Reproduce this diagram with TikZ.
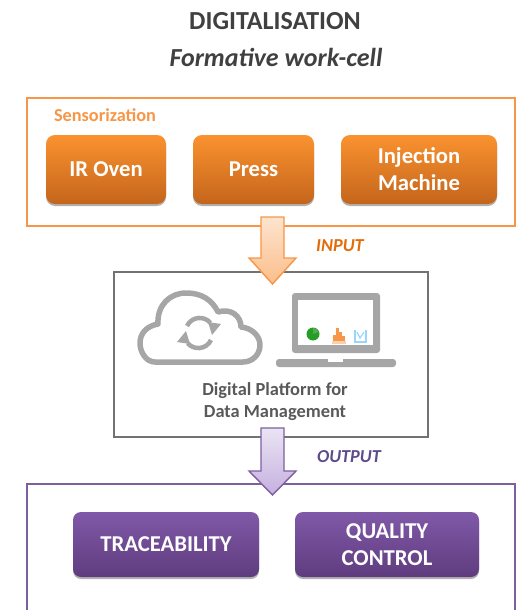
\documentclass[tikz,border=0pt]{standalone}
\usepackage{fontspec}
\setmainfont{Carlito}
\usetikzlibrary{shadows,arrows.meta}

\definecolor{orangeline}{HTML}{F79646}
\definecolor{orangedark}{HTML}{E36C0A}
\definecolor{orangetop}{HTML}{FA922F}
\definecolor{orangebot}{HTML}{C4651C}
\definecolor{orangepale}{HTML}{FDE4CF}
\definecolor{orangesoft}{HTML}{FBBE8A}
\definecolor{purpleline}{HTML}{7D5FA0}
\definecolor{purpledark}{HTML}{5F4B8B}
\definecolor{purpletop}{HTML}{8059A8}
\definecolor{purplebot}{HTML}{5F3C7E}
\definecolor{purplepale}{HTML}{EAE4F3}
\definecolor{purplesoft}{HTML}{C6B0E0}
\definecolor{iconmid}{HTML}{A6A6A6}
\definecolor{textdark}{HTML}{404040}
\definecolor{textmid}{HTML}{595959}

\def\px{0.75pt}

\tikzset{
  framebox/.style={line width=2.6*\px},
  softshadow/.style={drop shadow={shadow xshift=0pt, shadow yshift=-2*\px, opacity=0.3, fill=black}},
  stepbox/.style={rounded corners=9*\px, text=white, align=center, font=\fontsize{17}{20.25}\selectfont\bfseries,
    minimum height=69*\px, softshadow},
  orangebox/.style={stepbox, top color=orangetop, bottom color=orangebot},
  purplebox/.style={stepbox, top color=purpletop, bottom color=purplebot, minimum height=65*\px, rounded corners=8*\px},
  inputarrow/.style={line width=1.4*\px, draw=orangeline, top color=orangepale, bottom color=orangesoft},
  outputarrow/.style={line width=1.4*\px, draw=purpleline, top color=purplepale, bottom color=purplesoft},
  icon/.style={draw=iconmid, line width=5.5*\px, line join=round},
}

\begin{document}
\begin{tikzpicture}[x=0.75pt,y=-0.75pt]
  \useasboundingbox (0,0) rectangle (522,610);

  % Titles
  \node[text=textdark, font=\fontsize{19.5}{22}\selectfont\bfseries] (title) at (275,21) {DIGITALISATION};
  \node[text=textdark, font=\fontsize{19.5}{22}\selectfont\bfseries\itshape] (subtitle) at (276,57) {Formative work-cell};

  % Sensorization frame
  \draw[framebox, draw=orangeline] (27,98) rectangle (515,226);
  \node[text=orangeline, font=\fontsize{13.7}{16}\selectfont\bfseries] (sensor) at (105,115) {Sensorization};
  \node[orangebox, minimum width=120*\px] (oven) at (106,169.5) {IR Oven};
  \node[orangebox, minimum width=121*\px] (press) at (253.5,169.5) {Press};
  \node[orangebox, minimum width=156*\px] (injection) at (419,169.5) {Injection\\Machine};

  % Platform frame
  \draw[framebox, draw=textmid!85] (114,272) rectangle (428,437);

  % Cloud with sync arrows
  \draw[icon] (155,362) .. controls (146,362) and (140,352) .. (140,343)
    .. controls (140,333) and (147,326) .. (158,324)
    .. controls (157,305) and (170,293) .. (186,293)
    .. controls (202,293) and (212,300) .. (218,312)
    .. controls (231,308) and (241,316) .. (241,327)
    .. controls (252,328) and (260,336) .. (260,345)
    .. controls (260,355) and (252,362) .. (243,362) -- cycle;
  \draw[draw=iconmid, line width=4.5*\px] (187,326) arc[start angle=205, end angle=320, radius=14];
  \draw[draw=iconmid, line width=4.5*\px] (211,340) arc[start angle=25, end angle=140, radius=14];
  \fill[iconmid] (208,322) -- (221,324) -- (212,335) -- cycle;
  \fill[iconmid] (190,344) -- (177,342) -- (186,331) -- cycle;

  % Laptop
  \fill[iconmid, rounded corners=3*\px] (292,293) rectangle (380,353);
  \fill[white] (298,300) rectangle (373,345);
  \fill[iconmid, rounded corners=3*\px] (276,359) rectangle (396,367);
  \fill[white] (328,359) rectangle (343,362);

  % Small charts on the screen
  \fill[green!55!black!85] (313,334) circle (6.5);
  \fill[green!35!gray] (313,334) -- (313,328) arc[start angle=-90, end angle=-20, radius=6] -- cycle;
  \foreach \x/\h in {334/6,337/13,340/9,343/5} {
    \fill[orangeline] (\x-1.5,341) rectangle (\x+1.5,341-\h);
  }
  \fill[orangeline!45] (332,341) rectangle (346,343.5);
  \draw[blue!40!cyan!40, line width=1.2*\px] (355,330) -- (355,342) -- (366,342) -- (366,330);
  \draw[blue!40!cyan!40, line width=1.2*\px] (357,332) -- (360,338) -- (364,332);

  \node[text=textmid, align=center, font=\fontsize{13.8}{16.5}\selectfont\bfseries] (platform) at (275,402) {Digital Platform for\\Data Management};

  % Output frame, open at the lower edge
  \draw[framebox, draw=purpleline] (27,612) -- (27,484) -- (515,484) -- (515,612);
  \node[purplebox, minimum width=186*\px] (trace) at (166,544.5) {TRACEABILITY};
  \node[purplebox, minimum width=184*\px] (quality) at (387,544.5) {QUALITY\\CONTROL};

  % Block arrows
  \coordinate (inputtop) at (272.5,217);
  \coordinate (inputtip) at (272.5,284);
  \coordinate (outputtop) at (272.5,428);
  \coordinate (outputtip) at (272.5,495);
  \draw[inputarrow] (inputtop) ++(-11.5,0) -- ++(23,0) -- ++(0,41) -- ++(12,0) -- (inputtip) -- ++(-23.5,-26) -- ++(12,0) -- cycle;
  \draw[outputarrow] (outputtop) ++(-11.5,0) -- ++(23,0) -- ++(0,43) -- ++(12,0) -- (outputtip) -- ++(-23.5,-24) -- ++(12,0) -- cycle;
  \node[text=orangedark, font=\fontsize{13.7}{16}\selectfont\bfseries\itshape] (input) at (340,246) {INPUT};
  \node[text=purpledark, font=\fontsize{13.7}{16}\selectfont\bfseries\itshape] (output) at (349,457) {OUTPUT};
\end{tikzpicture}
\end{document}
